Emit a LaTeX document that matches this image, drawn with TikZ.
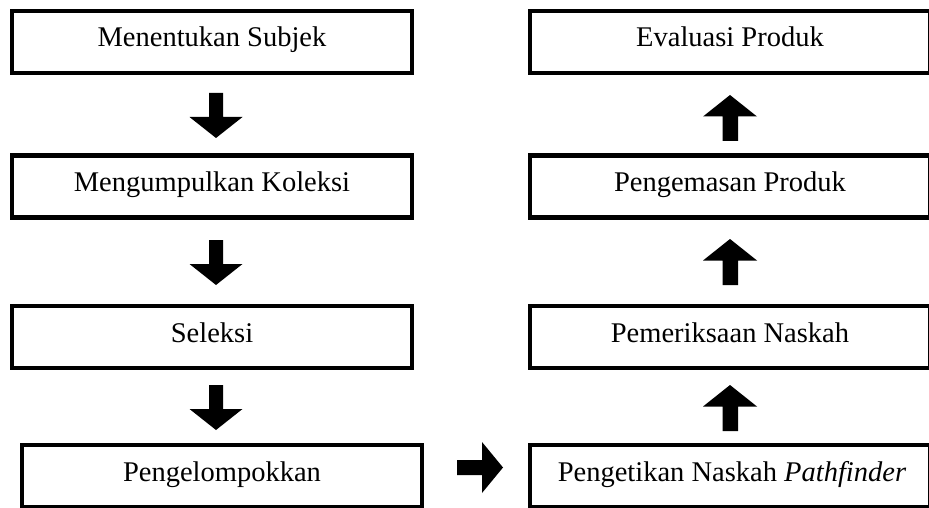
\documentclass[tikz,border=0pt]{standalone}
\usepackage{fontspec}
\setmainfont{Liberation Serif}
\begin{document}
\begin{tikzpicture}[x=1pt,y=-1pt,
  box/.style={draw=black,line width=4.3pt,minimum width=400pt,minimum height=62pt,inner sep=0pt,outer sep=0pt},
  lbl/.style={font=\fontsize{28.5}{32}\selectfont,inner sep=0pt,anchor=base},
  blk/.style={fill=black,draw=none}]
\useasboundingbox (0,0) rectangle (929,508);
\clip (0,0) rectangle (929,508);
% left column
\node[box] (b1) at (212,42) {};
\node[box] (b2) at (212,186.5) {};
\node[box] (b3) at (212,337) {};
\node[box] (b4) at (222,476) {};
% right column
\node[box] (r1) at (730,42) {};
\node[box] (r2) at (730,186.5) {};
\node[box] (r3) at (730,337) {};
\node[box] (r4) at (730,476) {};
% texts
\node[lbl] (t1) at (212,47) {Menentukan Subjek};
\node[lbl] (t2) at (212,191.5) {Mengumpulkan Koleksi};
\node[lbl] (t3) at (212,342) {Seleksi};
\node[lbl] (t4) at (222,481.5) {Pengelompokkan};
\node[lbl] (s1) at (730,47) {Evaluasi Produk};
\node[lbl] (s2) at (730,191.5) {Pengemasan Produk};
\node[lbl] (s3) at (730,342) {Pemeriksaan Naskah};
\node[lbl] (s4) at (732,481.5) {Pengetikan Naskah \textit{Pathfinder}};
% down arrows
\foreach \y in {93,240,385}{
  \fill[blk] (209,\y) -- (223,\y) -- (223,\y+24) -- (242.5,\y+24) -- (216,\y+45) -- (189.5,\y+24) -- (209,\y+24) -- cycle;
}
% up arrows
\foreach \y in {95,239,385}{
  \fill[blk] (730,\y) -- (757,\y+21.5) -- (738,\y+21.5) -- (738,\y+46) -- (722.5,\y+46) -- (722.5,\y+21.5) -- (703,\y+21.5) -- cycle;
}
% right arrow
\fill[blk] (457,460) -- (482,460) -- (482,442) -- (503,467.5) -- (482,493) -- (482,475) -- (457,475) -- cycle;
\end{tikzpicture}
\end{document}
